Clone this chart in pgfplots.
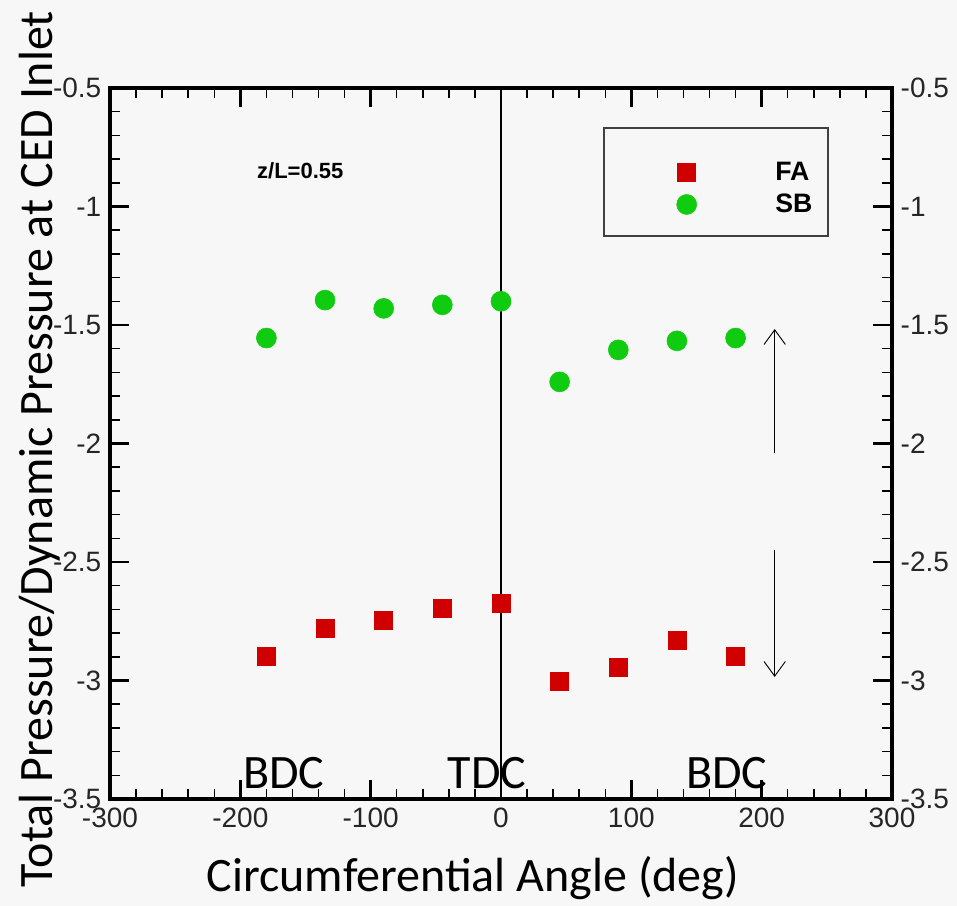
\documentclass[border=0pt]{standalone}
\usepackage{fontspec}
\usepackage{pgfplots}
\pgfplotsset{compat=1.18}
\usetikzlibrary{arrows.meta}
\setmainfont{Liberation Sans}
\newfontfamily\ticksfont{Liberation Sans}
\newfontfamily\calfont{Carlito}
\definecolor{bg}{HTML}{F7F7F7}
\definecolor{fared}{HTML}{D00000}
\definecolor{sbgreen}{HTML}{10CC10}
\definecolor{boxgray}{HTML}{404040}

\pgfplotstableread{
x y
-180 -2.897
-135 -2.780
-90 -2.745
-45 -2.694
0 -2.673
45 -3.002
90 -2.943
135 -2.830
180 -2.897
}\fadata
\pgfplotstableread{
x y
-180 -1.555
-135 -1.395
-90 -1.430
-45 -1.415
0 -1.400
45 -1.740
90 -1.605
135 -1.567
180 -1.555
}\sbdata

\begin{document}
\begin{tikzpicture}
\fill[bg] (0,0) rectangle (717.75pt,679.5pt);
\useasboundingbox (0,0) rectangle (717.75pt,679.5pt);
\begin{axis}[
  at={(82.5pt,80.25pt)}, anchor=south west,
  scale only axis, width=586.5pt, height=533.25pt,
  xmin=-300, xmax=300, ymin=-3.5, ymax=-0.5,
  axis background/.style={fill=bg},
  axis line style={line width=2.5pt},
  xtick={-300,-200,-100,0,100,200,300},
  xticklabels={-300,-200,-100,0,100,200,300},
  ytick={-3.5,-3,-2.5,-2,-1.5,-1,-0.5},
  yticklabels={-3.5,-3,-2.5,-2,-1.5,-1,-0.5},
  minor x tick num=4, minor y tick num=4,
  xtick pos=both, ytick pos=both,
  tick align=inside,
  major tick length=14pt, minor tick length=7.5pt,
  major tick style={line width=1.8pt, black},
  minor tick style={line width=1.1pt, black},
  ticklabel style={font=\ticksfont\fontsize{21}{22}\selectfont, text=black!85},
  xticklabel style={yshift=-3pt},
  yticklabel style={xshift=-3pt},
  xlabel={\calfont\fontsize{36}{40}\selectfont Circumferential Angle (deg)},
  ylabel={\calfont\fontsize{36}{40}\selectfont Total Pressure/Dynamic Pressure at CED Inlet},
  xlabel style={at={(axis description cs:0.464,0)}, anchor=center, yshift=-59pt},
  ylabel style={at={(axis description cs:-0.0895,0.492)}, anchor=center},
  legend style={draw=none, fill=none, at={(axis cs:134.6,-0.802)}, anchor=north west,
    row sep=4.5pt, font=\bfseries\fontsize{20}{22}\selectfont, inner sep=0pt},
  legend cell align=left,
  clip=false,
]
\draw[boxgray, line width=1.2pt] (axis cs:79,-0.669) rectangle (axis cs:251,-1.124);
\addplot[only marks, mark=square*, mark size=6.75pt, color=fared, mark options={draw=none, fill=fared}] table[x=x,y=y] {\fadata};
\addlegendentry{\hspace*{57pt}FA}
\addplot[only marks, mark=*, mark size=7.5pt, color=sbgreen, mark options={draw=none, fill=sbgreen}] table[x=x,y=y] {\sbdata};
\addlegendentry{\hspace*{57pt}SB}
\draw[black, line width=1.5pt] (axis cs:0,-3.5) -- (axis cs:0,-0.5);
\draw[black, line width=0.7pt, -{Straight Barb[length=11pt,width=16pt,line width=0.7pt]}] (axis cs:210,-2.04) -- (axis cs:210,-1.517);
\draw[black, line width=0.7pt, -{Straight Barb[length=11pt,width=16pt,line width=0.7pt]}] (axis cs:210,-2.45) -- (axis cs:210,-2.985);
\node[anchor=center, font=\bfseries\fontsize{16.5}{18}\selectfont] at (axis cs:-154,-0.85) {z/L=0.55};
\node[anchor=base west, inner sep=0pt, font=\calfont\fontsize{36}{40}\selectfont] at (axis cs:-198,-3.454) {BDC};
\node[anchor=base west, inner sep=0pt, font=\calfont\fontsize{36}{40}\selectfont] at (axis cs:-41,-3.454) {TDC};
\node[anchor=base west, inner sep=0pt, font=\calfont\fontsize{36}{40}\selectfont] at (axis cs:142,-3.454) {BDC};
\end{axis}
\begin{axis}[
  at={(82.5pt,80.25pt)}, anchor=south west,
  scale only axis, width=586.5pt, height=533.25pt,
  xmin=-300, xmax=300, ymin=-3.5, ymax=-0.5,
  axis line style={draw=none},
  xtick=\empty,
  ytick={-3.5,-3,-2.5,-2,-1.5,-1,-0.5},
  yticklabels={-3.5,-3,-2.5,-2,-1.5,-1,-0.5},
  yticklabel pos=right,
  major tick length=0pt, minor y tick num=0,
  ticklabel style={font=\ticksfont\fontsize{21}{22}\selectfont, text=black!85},
  yticklabel style={xshift=3pt},
]
\end{axis}
\end{tikzpicture}
\end{document}
